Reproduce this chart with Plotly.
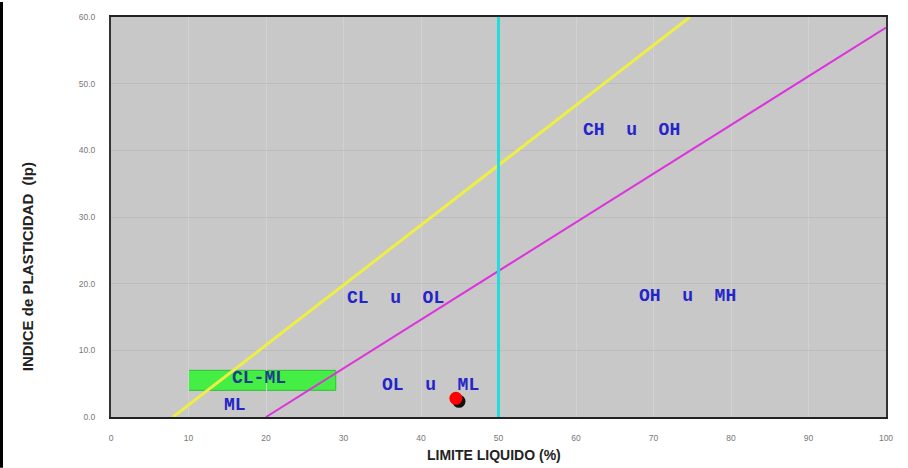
import plotly.graph_objects as go

# ---- data ----
x_ticks = [0, 10, 20, 30, 40, 50, 60, 70, 80, 90, 100]
y_ticks = [0, 10, 20, 30, 40, 50, 60]

a_line_ll = [20, 100]
a_line_ip = [0, 58.4]
u_line_ll = [8, 74.7]
u_line_ip = [0, 60]
ll50_x = [50, 50]
ll50_y = [0, 60]

clml_ll = [10, 29]
clml_ip = [4, 7]

sample_ll = [44.5]
sample_ip = [2.8]

zone_labels = ["CH  u  OH", "CL  u  OL", "OH  u  MH", "OL  u  ML", "CL-ML", "ML"]
zone_ll = [67.2, 36.7, 74.4, 41.2, 19.1, 16.0]
zone_ip = [43.1, 17.9, 18.2, 4.8, 5.8, 1.8]
zone_colors = ["#2424c8", "#2424c8", "#2424c8", "#2424c8", "#1e3c8c", "#2424c8"]

fig = go.Figure()

# CL-ML box
fig.add_shape(type="rect", x0=clml_ll[0], x1=clml_ll[1], y0=clml_ip[0], y1=clml_ip[1],
              xref="x", yref="y", fillcolor="#44ee44", line=dict(color="#30c030", width=1),
              layer="below")

fig.add_trace(go.Scatter(x=u_line_ll, y=u_line_ip, mode="lines",
                         line=dict(color="#eeee44", width=3), showlegend=False, hoverinfo="skip"))
fig.add_trace(go.Scatter(x=a_line_ll, y=a_line_ip, mode="lines",
                         line=dict(color="#dd33dd", width=2), showlegend=False, hoverinfo="skip"))
fig.add_trace(go.Scatter(x=ll50_x, y=ll50_y, mode="lines",
                         line=dict(color="#22dddd", width=3), showlegend=False, hoverinfo="skip"))

# sample point with shadow
shadow_dx, shadow_dy = 0.4, -0.45
fig.add_trace(go.Scatter(x=[v + shadow_dx for v in sample_ll], y=[v + shadow_dy for v in sample_ip],
                         mode="markers", marker=dict(color="#111111", size=13),
                         showlegend=False, hoverinfo="skip"))
fig.add_trace(go.Scatter(x=sample_ll, y=sample_ip, mode="markers",
                         marker=dict(color="#ff0000", size=13), showlegend=False))

for t, xv, yv, c in zip(zone_labels, zone_ll, zone_ip, zone_colors):
    fig.add_annotation(x=xv, y=yv, xref="x", yref="y", text="<b>%s</b>" % t, showarrow=False,
                       font=dict(family="Liberation Mono", size=18, color=c))

plot_w = 908 - 111 - 22
# axis titles
fig.add_annotation(x=(494 - 111) / plot_w, y=0.0, xref="paper", yref="paper", yshift=-48, yanchor="bottom",
                   text="<b>LIMITE LIQUIDO (%)</b>", showarrow=False,
                   font=dict(family="Liberation Sans", size=14, color="#222222"))
fig.add_annotation(x=(17 - 111) / plot_w, y=(417 - 266) / 402, xref="paper", yref="paper",
                   text="<b>INDICE de PLASTICIDAD  (Ip)</b>", textangle=-90, showarrow=False,
                   font=dict(family="Liberation Sans", size=15, color="#222222"))

# left black frame edge of the picture
fig.add_shape(type="line", xref="paper", yref="paper", x0=(1.5 - 111) / plot_w, x1=(1.5 - 111) / plot_w,
              y0=-51 / 402, y1=(402 + 15) / 402, line=dict(color="#000000", width=3))

fig.update_layout(
    width=908, height=468,
    margin=dict(l=111, r=22, t=15, b=51),
    paper_bgcolor="white", plot_bgcolor="#c8c8c8",
    font=dict(family="Liberation Sans"),
)
fig.update_xaxes(range=[0, 100], tickvals=x_ticks, ticktext=[str(v) for v in x_ticks],
                 showgrid=True, gridcolor="#d2d2d2", gridwidth=1, zeroline=False,
                 showline=True, linecolor="#222222", linewidth=2, mirror=True,
                 tickfont=dict(size=8.5, color="#777777"), ticks="", ticklabelstandoff=12)
fig.update_yaxes(range=[0, 60], tickvals=y_ticks, ticktext=["%.1f" % v for v in y_ticks],
                 showgrid=True, gridcolor="#bcbcbc", gridwidth=1, zeroline=False,
                 showline=True, linecolor="#333333", linewidth=2, mirror=True,
                 tickfont=dict(size=8.5, color="#777777"), ticks="", ticklabelstandoff=12)

fig.write_html("out.html")
